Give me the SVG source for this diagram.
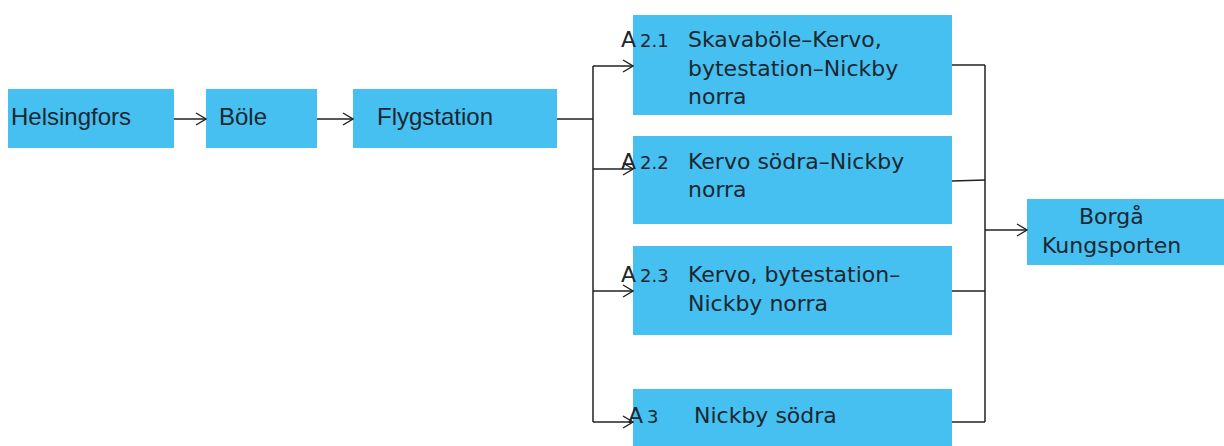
<svg xmlns="http://www.w3.org/2000/svg" width="1224" height="446" viewBox="0 0 1224 446">
<style>
.box{fill:#45C0F0}
.t{font-family:"Liberation Sans",Arial,sans-serif;font-size:24px;fill:#1c2730}
.r{font-family:"DejaVu Sans",sans-serif;font-size:22px;fill:#1c2730}
.a{font-family:"DejaVu Sans",sans-serif;font-size:22px;fill:#1c2730}
.n{font-family:"DejaVu Sans",sans-serif;font-size:18px;fill:#1c2730}
.c{fill:none;stroke:#222;stroke-width:1.5}
</style>
<defs>
<marker id="ah" viewBox="0 0 12 14" refX="11" refY="7" markerWidth="12" markerHeight="14" markerUnits="userSpaceOnUse" orient="auto">
<path d="M1,1 L11,7 L1,13" fill="none" stroke="#222" stroke-width="1.4"/>
</marker>
</defs>
<rect width="1224" height="446" fill="#fff"/>
<g id="helsingfors"><rect class="box" x="8" y="89" width="166" height="59"/><text class="t" x="11" y="125">Helsingfors</text></g>
<g id="bole"><rect class="box" x="206" y="89" width="111" height="59"/><text class="t" x="219" y="125">Böle</text></g>
<g id="flygstation"><rect class="box" x="353" y="89" width="204" height="59"/><text class="t" x="377" y="125">Flygstation</text></g>
<g id="a21"><rect class="box" x="633" y="15" width="319" height="100"/>
<text class="a" x="621" y="47">A</text><text class="n" x="640" y="47">2.1</text>
<text class="r" x="688" y="47">Skavaböle–Kervo,</text>
<text class="r" x="688" y="76">bytestation–Nickby</text>
<text class="r" x="688" y="104">norra</text></g>
<g id="a22"><rect class="box" x="633" y="136" width="319" height="88"/>
<text class="a" x="621" y="169">A</text><text class="n" x="640" y="169">2.2</text>
<text class="r" x="688" y="169">Kervo södra–Nickby</text>
<text class="r" x="688" y="197">norra</text></g>
<g id="a23"><rect class="box" x="633" y="246" width="319" height="89"/>
<text class="a" x="621" y="282">A</text><text class="n" x="640" y="282">2.3</text>
<text class="r" x="688" y="282">Kervo, bytestation–</text>
<text class="r" x="688" y="311">Nickby norra</text></g>
<g id="a3"><rect class="box" x="633" y="389" width="319" height="57"/>
<text class="a" x="628" y="423">A</text><text class="n" x="647" y="423">3</text>
<text class="r" x="694" y="423">Nickby södra</text></g>
<g id="borga"><rect class="box" x="1027" y="199" width="197" height="66"/>
<text class="r" x="1079" y="224">Borgå</text>
<text class="r" x="1042" y="253">Kungsporten</text></g>
<g id="connectors">
<path class="c" d="M174,119 H206" marker-end="url(#ah)"/>
<path class="c" d="M317,119 H353" marker-end="url(#ah)"/>
<path class="c" d="M557,119 H593"/>
<path class="c" d="M593,66 V422"/>
<path class="c" d="M593,66 H633" marker-end="url(#ah)"/>
<path class="c" d="M593,169 H633" marker-end="url(#ah)"/>
<path class="c" d="M593,291 H633" marker-end="url(#ah)"/>
<path class="c" d="M593,422 H633" marker-end="url(#ah)"/>
<path class="c" d="M952,65 H985"/>
<path class="c" d="M952,181 L985,180"/>
<path class="c" d="M952,291 H985"/>
<path class="c" d="M952,422 H985"/>
<path class="c" d="M985,65 V422"/>
<path class="c" d="M985,230 H1027" marker-end="url(#ah)"/>
</g>
</svg>
